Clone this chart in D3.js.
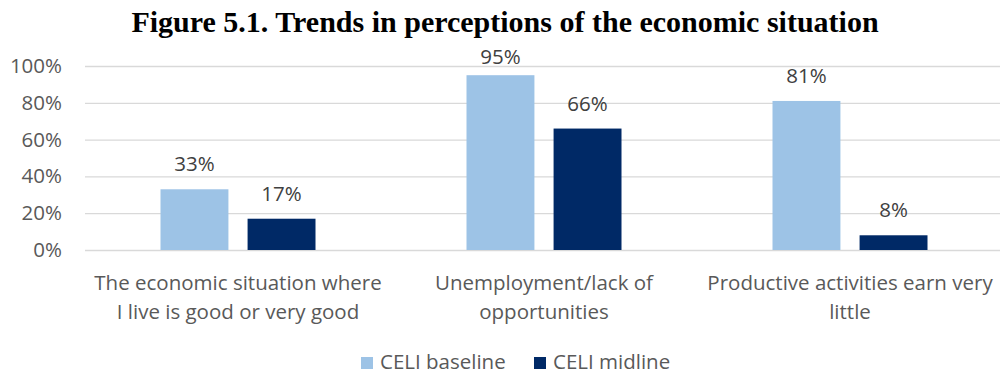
<!DOCTYPE html>
<html>
<head>
<meta charset="utf-8">
<script src="https://cdn.jsdelivr.net/npm/d3@7"></script>
<style>
  body { margin: 0; background: #fff; }
  text { font-family: "Open Sans", "Noto Sans", sans-serif; }
</style>
</head>
<body>
<div id="chart"></div>
<script>
var categories = [
  ["The economic situation where", "I live is good or very good"],
  ["Unemployment/lack of", "opportunities"],
  ["Productive activities earn very", "little"]
];
var seriesNames = ["CELI baseline", "CELI midline"];
var baseline = [33, 95, 81];
var midline = [17, 66, 8];
var yTicks = [0, 20, 40, 60, 80, 100];
var colors = ["#9DC3E6", "#002966"];

var width = 1000, height = 375;
var fs = "20.5px";

var svg = d3.select("#chart")
  .append("svg")
  .attr("width", width)
  .attr("height", height);

svg.append("text")
  .attr("x", 505)
  .attr("y", 32)
  .attr("text-anchor", "middle")
  .style("font-family", "'Liberation Serif', 'Times New Roman', serif")
  .style("font-weight", "bold")
  .style("font-size", "30px")
  .attr("fill", "#000")
  .text("Figure 5.1. Trends in perceptions of the economic situation");

var x = d3.scaleBand()
  .domain(d3.range(categories.length))
  .range([85, 1003])
  .padding(0);

var xInner = d3.scaleBand()
  .domain([0, 1])
  .range([75.5, 306 - 75.5])
  .paddingInner(0.22);

var y = d3.scaleLinear()
  .domain([0, 100])
  .range([250, 66]);

// gridlines
svg.selectAll(".grid")
  .data(yTicks)
  .enter()
  .append("line")
  .attr("x1", 85)
  .attr("x2", 1000)
  .attr("y1", function(d) { return y(d) + 0.5; })
  .attr("y2", function(d) { return y(d) + 0.5; })
  .attr("stroke", "#D9D9D9")
  .attr("stroke-width", 1.3);

// y axis labels
svg.selectAll(".ytick")
  .data(yTicks)
  .enter()
  .append("text")
  .attr("x", 62)
  .attr("y", function(d) { return y(d) + 7; })
  .attr("text-anchor", "end")
  .attr("fill", "#595959")
  .style("font-size", fs)
  .text(function(d) { return d + "%"; });

var rows = [];
for (var i = 0; i < categories.length; i++) {
  rows.push({cat: i, s: 0, v: baseline[i]});
  rows.push({cat: i, s: 1, v: midline[i]});
}

svg.selectAll(".bar")
  .data(rows)
  .enter()
  .append("rect")
  .attr("x", function(d) { return x(d.cat) + xInner(d.s); })
  .attr("y", function(d) { return y(d.v); })
  .attr("width", xInner.bandwidth())
  .attr("height", function(d) { return y(0) - y(d.v); })
  .attr("fill", function(d) { return colors[d.s]; });

// labels sit above bars, but not above the plot top
svg.selectAll(".lbl")
  .data(rows)
  .enter()
  .append("text")
  .attr("x", function(d) { return x(d.cat) + xInner(d.s) + xInner.bandwidth() / 2; })
  .attr("y", function(d) { return Math.max(y(d.v) - 18, 64); })
  .attr("text-anchor", "middle")
  .attr("fill", "#404040")
  .style("font-size", fs)
  .text(function(d) { return d.v + "%"; });

// category labels
categories.forEach(function(lines, i) {
  var t = svg.append("text")
    .attr("text-anchor", "middle")
    .attr("fill", "#595959")
    .style("font-size", fs);
  lines.forEach(function(line, j) {
    t.append("tspan")
      .attr("x", x(i) + x.bandwidth() / 2)
      .attr("y", 290 + j * 29)
      .text(line);
  });
});

// legend
var legendX = [361, 534];
seriesNames.forEach(function(name, i) {
  svg.append("rect")
    .attr("x", legendX[i])
    .attr("y", 357)
    .attr("width", 12)
    .attr("height", 12)
    .attr("fill", colors[i]);
  svg.append("text")
    .attr("x", legendX[i] + 19)
    .attr("y", 369)
    .attr("fill", "#595959")
    .style("font-size", fs)
    .text(name);
});
</script>
</body>
</html>
